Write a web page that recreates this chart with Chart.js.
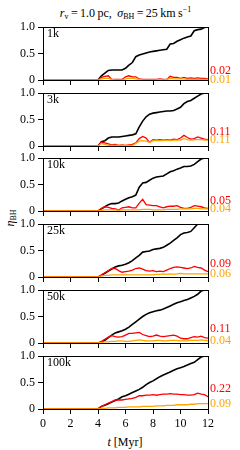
<!DOCTYPE html>
<html>
<head>
<meta charset="utf-8">
<script src="https://cdn.jsdelivr.net/npm/chart.js@4"></script>
<style>
  body { margin: 0; width: 240px; height: 450px; background: #fff; position: relative; overflow: hidden;
         font-family: "Liberation Serif", "DejaVu Serif", serif; color: #000; }
  .panel { position: absolute; left: 0; width: 240px; }
  #title { position: absolute; top: 5px; left: 43px; width: 165px; text-align: center; font-size: 12px; white-space: nowrap; }
  #ylabel { position: absolute; left: 10px; top: 218px; font-size: 12px; transform: translate(-50%, -50%) rotate(-90deg); white-space: nowrap; }
  #xlabel { position: absolute; left: 125px; top: 442px; font-size: 12px; transform: translate(-50%, -50%); white-space: nowrap; }
  sub, sup { font-size: 8px; }
  sub { vertical-align: -2px; }
  sup { vertical-align: 5px; }
</style>
</head>
<body>
<div id="title"><i>r</i><sub>v</sub>&#8201;=&#8201;1.0&#8201;pc,&#8201; <i>σ</i><sub>BH</sub>&#8201;=&#8201;25&#8201;km&#8201;s<sup>−1</sup></div>
<div id="ylabel"><i>η</i><sub>BH</sub></div>
<div id="xlabel"><i>t</i> [Myr]</div>
<script>
// time in Myr (everything is zero before 4 Myr)
var time = [0, 4, 4.25, 4.5, 4.75, 5, 5.25, 5.5, 5.75, 6, 6.25, 6.5, 6.75, 7, 7.25, 7.5, 7.75,
            8, 8.25, 8.5, 8.75, 9, 9.25, 9.5, 9.75, 10, 10.25, 10.5, 10.75, 11, 11.25, 11.5, 11.75, 12];

var panelLabels = ['1k', '3k', '10k', '25k', '50k', '100k'];

var black1k = [0, 0, .08, .13, .18, .19, .19, .19, .19, .22, .28, .33, .44, .47, .49, .51, .53, .54, .55, .56, .57, .58, .68, .69, .73, .76, .79, .81, .83, .93, .95, .96, .99, 1];
var red1k   = [0, 0, .05, .07, .08, .01, .01, .01, .01, .06, .08, .06, .06, .02, .01, .01, .01, .01, .01, .02, .01, .01, .07, .05, .05, .03, .05, .03, .04, .03, .04, .03, .03, .02];
var gold1k  = [0, 0, .02, .03, .03, .01, 0, 0, 0, .02, .03, .03, .02, .01, 0, 0, 0, 0, 0, .01, 0, .01, .03, .02, .02, .02, .02, .01, .01, .01, .01, .01, .01, .01];

var black3k = [0, 0, .08, .1, .15, .17, .17, .17, .18, .19, .2, .21, .23, .36, .47, .55, .6, .62, .63, .64, .65, .66, .66, .67, .7, .73, .8, .84, .86, .9, .94, .98, 1, 1];
var red3k   = [0, 0, .07, .06, .04, .02, .03, .01, .02, .01, .02, .03, .06, .14, .18, .15, .07, .12, .11, .12, .11, .12, .11, .13, .12, .15, .2, .16, .13, .14, .17, .15, .13, .12];
var gold3k  = [0, 0, .05, .03, .01, .01, .01, .01, .01, .01, .01, .01, .05, .09, .1, .09, .07, .1, .1, .1, .1, .11, .1, .11, .11, .11, .14, .12, .11, .12, .12, .12, .11, .11];

var black10k = [0, 0, .04, .08, .12, .14, .14, .15, .19, .22, .25, .27, .3, .45, .53, .54, .58, .62, .64, .65, .66, .7, .74, .76, .79, .81, .84, .84, .85, .88, .93, .98, 1, 1];
var red10k   = [0, 0, .05, .08, .07, .05, .04, .02, .06, .07, .08, .06, .06, .15, .22, .12, .11, .1, .1, .08, .06, .08, .09, .09, .1, .07, .05, .05, .07, .1, .09, .08, .06, .05];
var gold10k  = [0, 0, .01, .02, .02, .02, .02, .01, .02, .02, .02, .02, .02, .02, .03, .03, .03, .02, .02, .02, .02, .03, .03, .03, .03, .04, .04, .04, .04, .05, .05, .04, .04, .04];

var black25k = [0, 0, .03, .07, .11, .15, .19, .21, .22, .24, .27, .31, .36, .41, .47, .48, .49, .52, .53, .54, .56, .6, .64, .69, .74, .8, .83, .84, .86, .93, 1, 1, 1, 1];
var red25k   = [0, 0, .04, .08, .12, .16, .16, .12, .09, .1, .11, .13, .16, .17, .15, .12, .11, .12, .1, .11, .1, .13, .16, .18, .19, .18, .17, .16, .17, .2, .18, .17, .13, .1];
var gold25k  = [0, 0, .02, .03, .03, .04, .04, .04, .04, .04, .04, .04, .04, .04, .04, .04, .04, .04, .05, .05, .06, .05, .06, .05, .06, .07, .06, .06, .06, .06, .06, .06, .06, .06];

var black50k = [0, 0, .02, .05, .1, .15, .19, .21, .23, .26, .3, .35, .4, .45, .5, .54, .57, .59, .61, .62, .64, .67, .7, .73, .76, .78, .8, .82, .85, .88, .92, .98, 1, 1];
var red50k   = [0, 0, .03, .07, .11, .14, .12, .11, .12, .15, .18, .18, .19, .2, .16, .14, .12, .13, .15, .13, .12, .13, .14, .15, .13, .09, .08, .08, .1, .12, .11, .13, .1, .09];
var gold50k  = [0, 0, .01, .02, .02, .03, .03, .04, .04, .03, .03, .04, .05, .06, .05, .04, .04, .04, .05, .05, .04, .04, .05, .05, .05, .04, .04, .04, .05, .05, .05, .06, .05, .04];

var black100k = [0, 0, .05, .07, .1, .13, .16, .19, .23, .25, .28, .31, .34, .37, .41, .46, .5, .53, .57, .61, .64, .67, .7, .73, .76, .78, .8, .83, .86, .88, .93, .98, 1, 1];
var red100k   = [0, 0, .05, .08, .11, .14, .17, .17, .17, .18, .19, .2, .22, .25, .25, .26, .26, .27, .26, .27, .28, .28, .29, .28, .28, .27, .27, .26, .26, .27, .3, .28, .27, .23];
var gold100k  = [0, 0, .01, .01, .02, .02, .02, .03, .03, .03, .04, .04, .04, .04, .05, .05, .05, .05, .06, .06, .06, .07, .07, .07, .08, .08, .08, .08, .09, .09, .1, .1, .1, .1];

// final values written at the right of each panel
var redFinal  = [0.02, 0.11, 0.05, 0.09, 0.11, 0.22];
var goldFinal = [0.01, 0.11, 0.04, 0.06, 0.04, 0.09];

var yTicks = [0, 0.5, 1];
var yTickLabels = ['0', '0.5', '1.0'];
var xTicks = [0, 2, 4, 6, 8, 10, 12];

var blacks = [black1k, black3k, black10k, black25k, black50k, black100k];
var reds = [red1k, red3k, red10k, red25k, red50k, red100k];
var golds = [gold1k, gold3k, gold10k, gold25k, gold50k, gold100k];

var RED = '#ff0000', GOLD = '#ffa500';
var FONT = {family: '"Liberation Serif", serif', size: 12};
var PAD = 14, PLOT_H = 53, LEFT = 43, RIGHT_PAD = 32;
var panelTops = [27, 93, 158, 224, 290, 356];

function points(ys) {
  return time.map(function(t, k) { return {x: t, y: ys[k]}; });
}

var framePlugin = {
  id: 'frame',
  afterDraw: function(chart) {
    var a = chart.chartArea, ctx = chart.ctx;
    ctx.save();
    ctx.strokeStyle = '#000';
    ctx.lineWidth = 1;
    ctx.strokeRect(Math.round(a.left) + 0.5, Math.round(a.top) + 0.5, Math.round(a.right - a.left), Math.round(a.bottom - a.top));
    ctx.restore();
  }
};

var labelPlugin = {
  id: 'labels',
  afterDraw: function(chart) {
    var i = chart.options.panelIndex, a = chart.chartArea, ctx = chart.ctx, y = chart.scales.y;
    ctx.save();
    ctx.font = '12px "Liberation Serif", serif';
    ctx.textBaseline = 'middle';
    ctx.fillStyle = '#000';
    ctx.fillText(panelLabels[i], a.left + 4, a.top + 7);
    ctx.fillStyle = RED;
    ctx.fillText(redFinal[i].toFixed(2), a.right + 2, y.getPixelForValue(redFinal[i]) - 8);
    ctx.fillStyle = GOLD;
    ctx.fillText(goldFinal[i].toFixed(2), a.right + 2, y.getPixelForValue(goldFinal[i]));
    ctx.restore();
  }
};

panelTops.forEach(function(top, i) {
  var isLast = i === panelTops.length - 1;
  var h = PAD + PLOT_H + (isLast ? 24 : PAD);
  var div = document.createElement('div');
  div.className = 'panel';
  div.style.top = (top - PAD) + 'px';
  div.style.height = h + 'px';
  var canvas = document.createElement('canvas');
  canvas.width = 240;
  canvas.height = h;
  div.appendChild(canvas);
  document.body.appendChild(div);

  new Chart(canvas, {
    type: 'line',
    data: {
      datasets: [
        {data: points(golds[i]), borderColor: GOLD, borderWidth: 1.3},
        {data: points(reds[i]), borderColor: RED, borderWidth: 1.3},
        {data: points(blacks[i]), borderColor: '#000', borderWidth: 1.6}
      ]
    },
    options: {
      panelIndex: i,
      responsive: false,
      animation: false,
      events: [],
      layout: {padding: {top: PAD, left: 0, right: RIGHT_PAD, bottom: 0}},
      plugins: {legend: {display: false}, tooltip: {enabled: false}},
      elements: {point: {radius: 0}, line: {tension: 0}},
      scales: {
        x: {
          type: 'linear', min: 0, max: 12,
          afterBuildTicks: function(s) { s.ticks = xTicks.map(function(v) { return {value: v}; }); },
          ticks: {display: isLast, color: '#000', font: FONT, padding: 3, maxRotation: 0},
          grid: {drawOnChartArea: false, tickLength: 5, color: '#000', lineWidth: 1},
          border: {color: '#000', width: 1},
          afterFit: function(s) { s.height = isLast ? 24 : PAD; }
        },
        y: {
          min: 0, max: 1,
          afterBuildTicks: function(s) { s.ticks = yTicks.map(function(v) { return {value: v}; }); },
          ticks: {
            color: '#000', font: FONT, padding: 3,
            callback: function(v) { return yTickLabels[yTicks.indexOf(v)]; }
          },
          grid: {drawOnChartArea: false, tickLength: 5, color: '#000', lineWidth: 1},
          border: {color: '#000', width: 1},
          afterFit: function(s) { s.width = LEFT; }
        }
      }
    },
    plugins: [framePlugin, labelPlugin]
  });
});
</script>
</body>
</html>
